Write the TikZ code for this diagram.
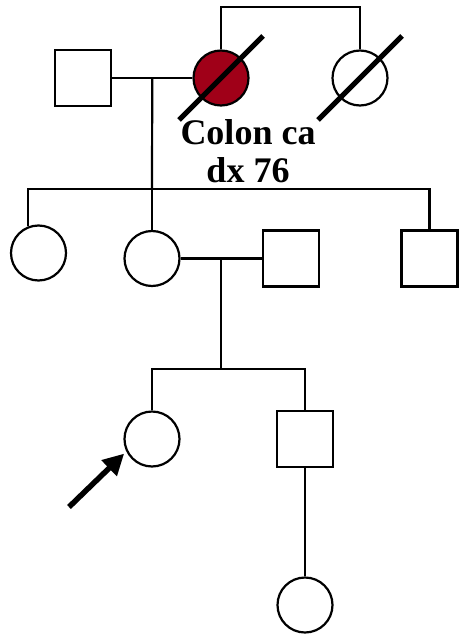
\documentclass[tikz,border=0pt]{standalone}
\usepackage{fontspec}
\setmainfont{Liberation Serif}
\usetikzlibrary{arrows.meta, calc}

\definecolor{affected}{RGB}{160,0,24}

\begin{document}
\begin{tikzpicture}[
  x=1pt, y=-1pt,
  line width=2.2pt,
  male/.style={draw, rectangle, minimum size=56pt, inner sep=0pt},
  female/.style={draw, circle, minimum size=55pt, inner sep=0pt},
  sick/.style={fill=affected},
  deceased/.style={line width=5pt},
  pointer/.style={line width=5.5pt, -{Triangle[length=21pt,width=21pt]}, shorten >=3pt},
  note/.style={align=center, inner sep=0pt, font=\fontsize{36}{38}\selectfont\bfseries}
]
%general params
\def\slash{42} %half length of the deceased bar

\useasboundingbox (0,0) rectangle (458,634);

% generation I
  \node[male]        (GF)  at (83,78)  {};
  \node[female,sick] (GM)  at (221,78) {};
  \node[female]      (GMS) at (360,78) {};

  \draw (GM.north) -- ++(0,-42) -| (GMS.north);
  \draw[deceased] ([shift={(-\slash,\slash)}]GM.center) -- ([shift={(\slash,-\slash)}]GM.center);
  \draw[deceased] ([shift={(-\slash,\slash)}]GMS.center) -- ([shift={(\slash,-\slash)}]GMS.center);

  \node[note] (DX) at (248,151.5) {Colon ca\\dx 76};

  \coordinate (M1) at ($(GF.east)!0.5!(GM.west)$);
  \coordinate (S1) at (152,189);
  \draw (GF.east) -- (GM.west);
  \draw (M1) -- (S1);

% generation II
  \node[female] (AU) at (38.5,253)  {};
  \node[female] (MO) at (152,258.5) {};
  \node[male]   (FA) at (291,258.5) {};
  \node[male]   (UN) at (429.5,258.5) {};

  \draw (AU.112) |- (UN.north |- S1) -- (UN.north);
  \draw (MO.north) -- (MO.north |- S1);

  \coordinate (M2) at ($(MO.east)!0.5!(FA.west)$);
  \coordinate (S2) at ($(M2)+(0,110.5)$);
  \draw (MO.east) -- (FA.west);
  \draw (M2) -- (S2);

% generation III
  \node[female] (PB) at (152,439) {};
  \node[male]   (BR) at (305,439) {};

  \draw (PB.north) |- (S2) -| (BR.north);

  \coordinate (TAIL) at (69,507);
  \draw[pointer] (TAIL) -- (PB.206);

% generation IV
  \node[female] (CH) at (305,605) {};
  \draw (BR.south) -- (CH.north);

\end{tikzpicture}
\end{document}
